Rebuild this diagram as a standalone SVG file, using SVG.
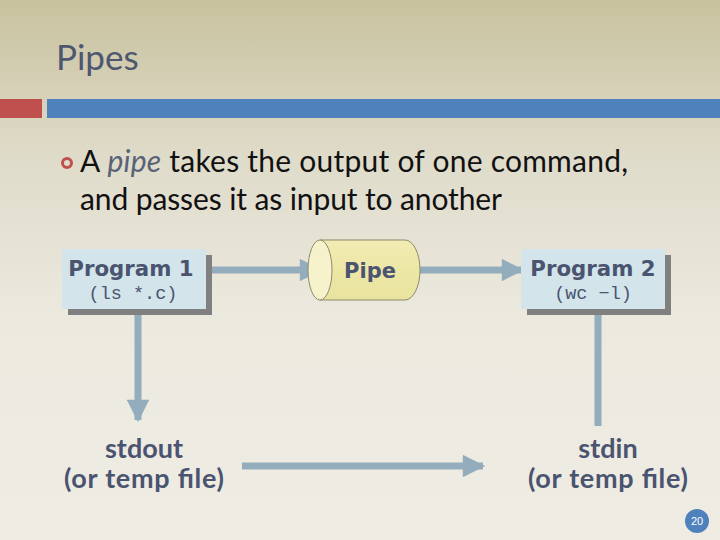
<svg xmlns="http://www.w3.org/2000/svg" width="720" height="540" viewBox="0 0 720 540">
<defs>
<linearGradient id="bg" x1="0" y1="0" x2="0" y2="1">
<stop offset="0" stop-color="#c8c29e"/>
<stop offset="0.3" stop-color="#e0dccb"/>
<stop offset="0.6" stop-color="#ece9df"/>
<stop offset="1" stop-color="#efece4"/>
</linearGradient>
<linearGradient id="cyl" x1="0" y1="0" x2="0" y2="1">
<stop offset="0" stop-color="#f1ecb3"/>
<stop offset="0.5" stop-color="#ede7a6"/>
<stop offset="1" stop-color="#e9e39f"/>
</linearGradient>
<marker id="ah" viewBox="0 0 10 10" refX="9" refY="5" markerWidth="3.4" markerHeight="3.2" orient="auto" markerUnits="strokeWidth">
<path d="M0,0 L10,5 L0,10 Z" fill="#93adbd"/>
</marker>
<style>
.lbl{font-family:"DejaVu Sans",Verdana,sans-serif;font-weight:bold;fill:#4a5470;text-anchor:middle}
.lbl2{font-family:Lato,"Open Sans","Liberation Sans",sans-serif;font-weight:bold;fill:#4a5470;text-anchor:middle;font-size:27px}
.mono{font-family:"Liberation Mono","DejaVu Sans Mono",monospace;fill:#4a5470;text-anchor:middle;font-size:18.5px}
.box{fill:#d3e4ea}
.shadow{fill:#808080}
.conn{stroke:#93adbd;stroke-width:7;fill:none}
.body{font-family:Lato,"Open Sans","Liberation Sans",sans-serif;font-size:30px;fill:#111111}
</style>
</defs>
<rect x="0" y="0" width="720" height="540" fill="url(#bg)"/>
<text x="56" y="70" font-family="Lato,'Open Sans','Liberation Sans',sans-serif" font-size="35" fill="#4f5670">Pipes</text>
<rect x="0" y="99" width="42" height="19" fill="#c0504d"/>
<rect x="47" y="99" width="673" height="19" fill="#4f81bd"/>
<circle cx="67" cy="163" r="4.5" fill="none" stroke="#c0504d" stroke-width="3"/>
<text class="body" x="80" y="172" textLength="548" lengthAdjust="spacing">A <tspan font-style="italic" fill="#5a6278">pipe</tspan>  takes the output of one command,</text>
<text class="body" x="80" y="210" textLength="422" lengthAdjust="spacing">and passes it as input to another</text>

<g id="connectors">
<line class="conn" x1="212" y1="270" x2="320" y2="270" marker-end="url(#ah)"/>
<line class="conn" x1="420" y1="270" x2="522" y2="270" marker-end="url(#ah)"/>
<line class="conn" x1="138" y1="315" x2="138" y2="420" marker-end="url(#ah)"/>
<line class="conn" x1="598" y1="315" x2="598" y2="426"/>
<line class="conn" x1="242" y1="466" x2="483" y2="466" marker-end="url(#ah)"/>
</g>

<g id="program1">
<rect class="shadow" x="68" y="255" width="144" height="60"/>
<rect class="box" x="62" y="249" width="144" height="60"/>
<text class="lbl" x="131" y="276" font-size="21.3">Program 1</text>
<text class="mono" x="133" y="299">(ls *.c)</text>
</g>

<g id="pipe">
<path d="M320,240 L405,240 A15,30 0 0 1 405,300 L320,300 Z" fill="url(#cyl)" stroke="#8c8a6a" stroke-width="1"/>
<ellipse cx="320" cy="270" rx="12" ry="30" fill="#f6f2cc" stroke="#8c8a6a" stroke-width="1"/>
<text class="lbl" x="370" y="278" font-size="21">Pipe</text>
</g>

<g id="program2">
<rect class="shadow" x="527" y="255" width="144" height="60"/>
<rect class="box" x="521" y="249" width="144" height="60"/>
<text class="lbl" x="593" y="276" font-size="21.3">Program 2</text>
<text class="mono" x="593" y="299">(wc −l)</text>
</g>

<g id="stdout">
<text class="lbl2" x="144" y="458">stdout</text>
<text class="lbl2" x="144" y="488" textLength="160" lengthAdjust="spacing">(or temp file)</text>
</g>

<g id="stdin">
<text class="lbl2" x="608" y="458">stdin</text>
<text class="lbl2" x="608" y="488" textLength="160" lengthAdjust="spacing">(or temp file)</text>
</g>

<circle cx="697" cy="521" r="12" fill="#4f81bd"/>
<text x="697" y="525" font-family="'Liberation Sans Narrow','Liberation Sans',sans-serif" font-size="11" fill="#ffffff" text-anchor="middle">20</text>
</svg>
